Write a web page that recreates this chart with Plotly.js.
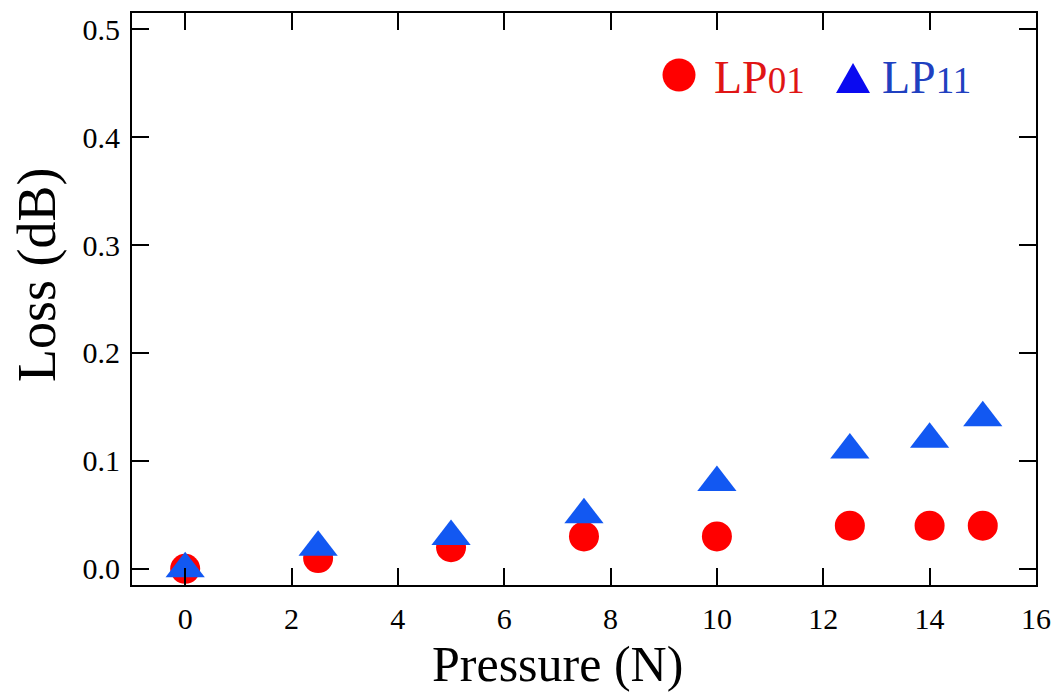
<!DOCTYPE html>
<html>
<head>
<meta charset="utf-8">
<script src="https://cdn.plot.ly/plotly-3.0.1.min.js"></script>
<style>html,body{margin:0;padding:0;background:#fff;}#chart{width:1059px;height:697px;}</style>
</head>
<body>
<div id="chart"></div>
<script>
// ---- data ----
const pressure = [0, 2.5, 5, 7.5, 10, 12.5, 14, 15];
const lossLP01 = [0, 0.01, 0.02, 0.03, 0.03, 0.04, 0.04, 0.04];
const lossLP11 = [0, 0.02, 0.03, 0.05, 0.08, 0.11, 0.12, 0.14];
const seriesMain = ['LP', 'LP'];
const seriesSub = ['01', '11'];
const xTicks = [0, 2, 4, 6, 8, 10, 12, 14, 16];
const yTicks = [0, 0.1, 0.2, 0.3, 0.4, 0.5];
const xTitle = 'Pressure (N)';
const yTitle = 'Loss (dB)';

const FONT = '"Liberation Serif", "Times New Roman", serif';
const RED = '#ff0000';
const BLUE = '#1258f2';

const traces = [
  {x: pressure, y: lossLP01, type: 'scatter', mode: 'markers', name: seriesMain[0] + seriesSub[0],
   marker: {symbol: 'circle', size: 30, color: RED}},
  {x: pressure, y: lossLP11, type: 'scatter', mode: 'markers', name: seriesMain[1] + seriesSub[1],
   marker: {symbol: 'triangle-up', size: 34, color: BLUE}}
];

const axisCommon = {
  showline: true, linewidth: 2, linecolor: '#000', mirror: 'ticks',
  ticks: 'inside', ticklen: 17, tickwidth: 2, tickcolor: '#000',
  showgrid: false, zeroline: false,
  tickfont: {family: FONT, size: 30, color: '#000'}
};

const layout = {
  width: 1059, height: 697,
  margin: {l: 132, r: 23, t: 13, b: 112},
  paper_bgcolor: '#fff', plot_bgcolor: '#fff',
  showlegend: false,
  xaxis: Object.assign({}, axisCommon, {
    range: [-1, 16.001], tickvals: xTicks, ticktext: xTicks.map(String),
    ticklabelstandoff: 6
  }),
  yaxis: Object.assign({}, axisCommon, {
    range: [-0.015, 0.515], tickvals: yTicks, ticktext: yTicks.map(v => v.toFixed(1)),
    ticklabelstandoff: 4
  }),
  shapes: [
    {type: 'circle', xref: 'paper', yref: 'paper', xsizemode: 'pixel', ysizemode: 'pixel',
     xanchor: 0.6051, yanchor: 0.8916, x0: -16.5, x1: 16.5, y0: -16.5, y1: 16.5,
     fillcolor: RED, line: {width: 0}},
    {type: 'path', xref: 'paper', yref: 'paper', xsizemode: 'pixel', ysizemode: 'pixel',
     xanchor: 0.7976, yanchor: 0.8601, path: 'M-17,0 L17,0 L0,30 Z',
     fillcolor: '#0a0af0', line: {width: 0}}
  ],
  annotations: [
    {xref: 'paper', yref: 'paper', x: 0.4712, y: -0.1381, xanchor: 'center', yanchor: 'middle',
     showarrow: false, text: xTitle, font: {family: FONT, size: 50, color: '#000'}},
    {xref: 'paper', yref: 'paper', x: -0.1051, y: 0.5437, xanchor: 'center', yanchor: 'middle',
     textangle: -90, showarrow: false, text: yTitle, font: {family: FONT, size: 54, color: '#000'}},
    {xref: 'paper', yref: 'paper', x: 0.6420, y: 0.8864, xanchor: 'left', yanchor: 'middle',
     showarrow: false, text: seriesMain[0] + '<span style="font-size:37px">' + seriesSub[0] + '</span>',
     font: {family: FONT, size: 46, color: '#e01515'}},
    {xref: 'paper', yref: 'paper', x: 0.8275, y: 0.8864, xanchor: 'left', yanchor: 'middle',
     showarrow: false, text: seriesMain[1] + '<span style="font-size:37px">' + seriesSub[1] + '</span>',
     font: {family: FONT, size: 46, color: '#2040c0'}}
  ]
};

Plotly.newPlot('chart', traces, layout, {staticPlot: true, displayModeBar: false});
</script>
</body>
</html>
